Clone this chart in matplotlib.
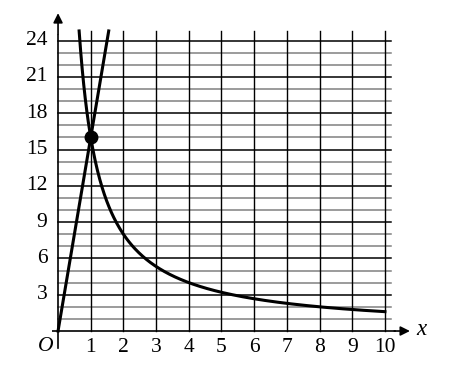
import numpy as np
import matplotlib
matplotlib.use("Agg")
from matplotlib import pyplot as plt

# data
x_ticks = [1, 2, 3, 4, 5, 6, 7, 8, 9, 10]
y_ticks = [3, 6, 9, 12, 15, 18, 21, 24]
grid_y = list(range(1, 25))
k = 16          # y = 16x and y = 16/x
meet = (1, 16)

serif = ["Liberation Serif", "DejaVu Serif"]

fig = plt.figure(figsize=(4.64, 3.74), dpi=100)
ax = fig.add_axes([0.111, 0.0664, 0.789, 0.922])
ax.set_xlim(-0.2, 11.0)
ax.set_ylim(-1.5, 27)
ax.axis("off")

top = 24.8
right = 10.2

# grid
for y in grid_y:
    c = "black" if y % 3 == 0 else "#808080"
    ax.plot([0, right], [y, y], color=c, lw=1.1, zorder=1)
for x in x_ticks:
    ax.plot([x, x], [0, top], color="black", lw=1.0, zorder=1)

# axes with arrows
ax.plot([-0.6, 10.3], [0, 0], color="black", lw=1.2, zorder=2)
ax.plot([0, 0], [-1.4, 24.5], color="black", lw=1.2, zorder=2)
ax.annotate("", xy=(10.85, 0), xytext=(10.2, 0),
            arrowprops=dict(arrowstyle="-|>", color="black", lw=1.2,
                            mutation_scale=14))
ax.annotate("", xy=(0, 26.5), xytext=(0, 24.3),
            arrowprops=dict(arrowstyle="-|>", color="black", lw=1.2,
                            mutation_scale=14))

# curves
xl = np.linspace(0, top / k, 50)
ax.plot(xl, k * xl, color="black", lw=2.2, zorder=3)
xc = np.linspace(k / top, 10, 400)
ax.plot(xc, k / xc, color="black", lw=2.2, zorder=3)
ax.plot(*meet, "o", color="black", ms=9, zorder=4)

# labels
fs = 15.5
for x in x_ticks:
    ax.text(x, -0.55, str(x), ha="center", va="top", fontsize=fs, family=serif)
for y in y_ticks:
    ax.text(-0.33, y, str(y), ha="right", va="center", fontsize=fs, family=serif)
ax.text(-0.15, -0.5, "O", ha="right", va="top", fontsize=fs, family=serif,
        style="italic")
ax.text(10.95, 0.1, "x", ha="left", va="center", fontsize=fs + 1, family=serif,
        style="italic")

fig.savefig("out.png", dpi=100)
